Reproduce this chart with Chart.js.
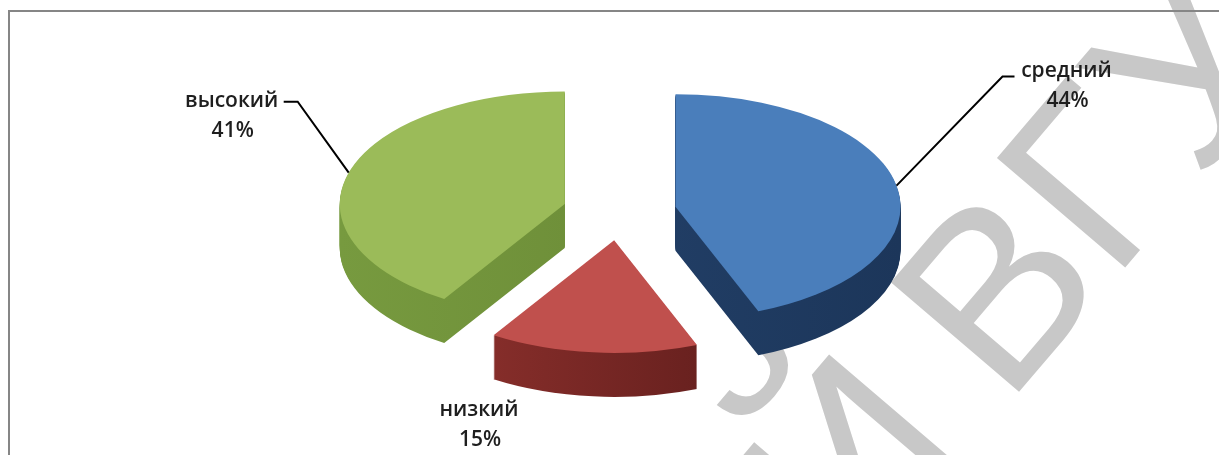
<!DOCTYPE html>
<html><head><meta charset="utf-8">
<script src="https://cdn.jsdelivr.net/npm/chart.js@4"></script>
<style>html,body{margin:0;padding:0;background:#fff;overflow:hidden}#wrap{width:1219px;height:455px;position:relative}</style>
</head><body><div id="wrap"><canvas id="c"></canvas></div>
<script>
// ---- data ----
const categories = ['средний', 'низкий', 'высокий'];
const values = [44, 15, 41];
const topColors = ['#4a7ebb', '#c0504d', '#9bbb59'];
const sideLight = ['#25446e', '#93332f', '#779a3f'];
const sideDark  = ['#1c365a', '#561918', '#678634'];
const watermarkText = ['РЕПОЗИТОРИЙ', 'ВГУ'];

// ---- style / geometry ----
const TILT = 0.5, DEPTH = 44;
const labelLayout = [
  {leader: [[106, -109], [118, -109]], text: [170, -115]},
  {leader: null, text: [-114, 58]},
  {leader: [[-51, -71], [-65, -71]], text: [-117, -72]}
];
const total = values.reduce((a, b) => a + b, 0);
const pctLabels = values.map(v => Math.round(v / total * 100) + '%');

function geom(arc) {
  const p = arc.getProps(['x', 'y', 'startAngle', 'endAngle', 'outerRadius']);
  const off = arc.options.offset || 0;
  const mid = (p.startAngle + p.endAngle) / 2;
  return {cx: p.x + Math.cos(mid) * off, cy: p.y + Math.sin(mid) * off, r: p.outerRadius,
          a0: p.startAngle, a1: p.endAngle, mid, yc: p.y};
}
function tilt(ctx, yc) { ctx.translate(0, yc); ctx.scale(1, TILT); ctx.translate(0, -yc); }
function slicePath(ctx, g) {
  ctx.beginPath();
  ctx.moveTo(g.cx, g.cy);
  ctx.arc(g.cx, g.cy, g.r, g.a0, g.a1);
  ctx.closePath();
}

const pie3d = {
  id: 'pie3d',
  beforeDraw(chart) {
    const ctx = chart.ctx;
    // watermark
    ctx.save();
    ctx.translate(1006, 407);
    ctx.rotate(-49.5 * Math.PI / 180);
    ctx.font = '245px "Liberation Sans", Arial, sans-serif';
    ctx.fillStyle = '#c8c8c8';
    ctx.textBaseline = 'alphabetic';
    ctx.textAlign = 'right';
    ctx.fillText(watermarkText[0], -55, 0);
    ctx.textAlign = 'left';
    ctx.fillText(watermarkText[1], 0, 0);
    ctx.restore();
    // frame
    ctx.save();
    ctx.strokeStyle = '#868686';
    ctx.lineWidth = 2;
    ctx.beginPath();
    ctx.moveTo(9, chart.height + 5); ctx.lineTo(9, 11); ctx.lineTo(chart.width + 5, 11);
    ctx.stroke();
    ctx.restore();
  },
  beforeDatasetsDraw(chart) {
    const ctx = chart.ctx;
    const arcs = chart.getDatasetMeta(0).data;
    const geoms = arcs.map(geom);
    // side walls
    geoms.forEach((g, i) => {
      const grad = ctx.createLinearGradient(g.cx - g.r, 0, g.cx + g.r, 0);
      grad.addColorStop(0, sideLight[i]);
      grad.addColorStop(1, sideDark[i]);
      for (let d = DEPTH; d >= 1; d--) {
        ctx.save();
        ctx.translate(0, d);
        tilt(ctx, g.yc);
        slicePath(ctx, g);
        ctx.fillStyle = grad;
        ctx.fill();
        ctx.restore();
      }
    });
    // top faces
    geoms.forEach((g, i) => {
      ctx.save();
      tilt(ctx, g.yc);
      slicePath(ctx, g);
      ctx.fillStyle = arcs[i].options.backgroundColor;
      ctx.fill();
      ctx.restore();
    });
    return false;
  },
  afterDraw(chart) {
    const ctx = chart.ctx;
    const arcs = chart.getDatasetMeta(0).data;
    ctx.save();
    ctx.font = '600 21px "Open Sans", sans-serif';
    ctx.fillStyle = '#1e1e1e';
    ctx.textAlign = 'center';
    ctx.textBaseline = 'middle';
    ctx.strokeStyle = '#000';
    ctx.lineWidth = 2;
    arcs.forEach((arc, i) => {
      const g = geom(arc);
      const ax = g.cx + Math.cos(g.mid) * g.r;
      const ay = g.yc + (g.cy + Math.sin(g.mid) * g.r - g.yc) * TILT;
      const L = labelLayout[i];
      if (L.leader) {
        ctx.beginPath();
        ctx.moveTo(ax, ay);
        L.leader.forEach(p => ctx.lineTo(ax + p[0], ay + p[1]));
        ctx.stroke();
      }
      ctx.fillText(categories[i], ax + L.text[0], ay + L.text[1]);
      ctx.fillText(pctLabels[i], ax + L.text[0] + 1, ay + L.text[1] + 30);
    });
    ctx.restore();
  }
};

new Chart(document.getElementById('c'), {
  type: 'pie',
  data: {
    labels: categories,
    datasets: [{
      data: values,
      backgroundColor: topColors,
      borderWidth: 0,
      offset: 57,
      clip: false
    }]
  },
  options: {
    responsive: true,
    maintainAspectRatio: false,
    animation: false,
    events: [],
    radius: 225,
    layout: {padding: {left: 20, right: 0, top: 0, bottom: 31}},
    plugins: {legend: {display: false}, tooltip: {enabled: false}}
  },
  plugins: [pie3d]
});
</script></body></html>
